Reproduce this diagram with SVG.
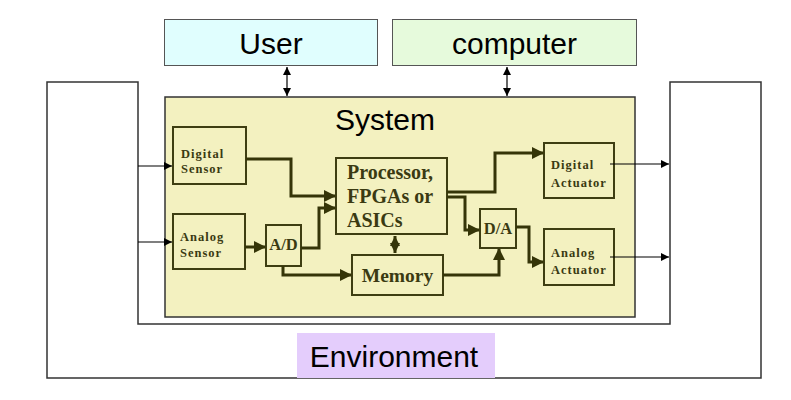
<svg xmlns="http://www.w3.org/2000/svg" width="791" height="400" viewBox="0 0 791 400">
<defs>
<style>
.lbl{font-family:"Liberation Sans",Arial,sans-serif;font-size:30px;fill:#000;text-anchor:middle}
.blk{fill:none;stroke:#3e3e12;stroke-width:2}
.sm{font-family:"Liberation Serif","Times New Roman",serif;font-weight:bold;font-size:12.5px;fill:#3a3a12;letter-spacing:1px}
.big{font-family:"Liberation Serif","Times New Roman",serif;font-weight:bold;fill:#3a3a12}
.thick{fill:none;stroke:#353508;stroke-width:3;stroke-linejoin:miter}
.thin{fill:none;stroke:#000;stroke-width:1.2}
</style>
<marker id="ah" markerUnits="userSpaceOnUse" markerWidth="12" markerHeight="12" viewBox="0 0 12 12" refX="11" refY="6" orient="auto">
<path d="M0,0 L12,6 L0,12 z" fill="#353508"/>
</marker>
<marker id="as" markerUnits="userSpaceOnUse" markerWidth="8" markerHeight="8" viewBox="0 0 8 8" refX="8" refY="4" orient="auto">
<path d="M0,0 L8,4 L0,8 z" fill="#000"/>
</marker>
<marker id="asr" markerUnits="userSpaceOnUse" markerWidth="8" markerHeight="8" viewBox="0 0 8 8" refX="0" refY="4" orient="auto">
<path d="M8,0 L0,4 L8,8 z" fill="#000"/>
</marker>
<marker id="ahm" markerUnits="userSpaceOnUse" markerWidth="10" markerHeight="10" viewBox="0 0 10 10" refX="10" refY="5" orient="auto">
<path d="M0,0 L10,5 L0,10 z" fill="#353508"/>
</marker>
<marker id="ahmr" markerUnits="userSpaceOnUse" markerWidth="10" markerHeight="10" viewBox="0 0 10 10" refX="0" refY="5" orient="auto">
<path d="M10,0 L0,5 L10,10 z" fill="#353508"/>
</marker>
</defs>
<rect width="791" height="400" fill="#fff"/>
<g id="environment">
<path d="M47,82 H138 V324 H670 V82 H761 V378 H47 Z" fill="#fff" stroke="#333" stroke-width="1.5"/>
<rect x="297" y="333" width="198" height="45" fill="#e4cdfc"/>
<text class="lbl" x="394" y="367">Environment</text>
</g>
<g id="user">
<rect x="164.5" y="19.5" width="213" height="46" fill="#e0fefe" stroke="#555" stroke-width="1"/>
<text class="lbl" x="271" y="54">User</text>
</g>
<g id="computer">
<rect x="392.5" y="19.5" width="244" height="46" fill="#e6fadc" stroke="#555" stroke-width="1"/>
<text class="lbl" x="514.5" y="54">computer</text>
</g>
<g id="system">
<rect x="165" y="97" width="470" height="220" fill="#f3f1c0" stroke="#333" stroke-width="1.5"/>
<text class="lbl" x="385" y="130">System</text>
</g>
<g id="digital-sensor">
<rect class="blk" x="173" y="127" width="73" height="57"/>
<text class="sm" x="181" y="158">Digital</text>
<text class="sm" x="181" y="173">Sensor</text>
</g>
<g id="analog-sensor">
<rect class="blk" x="173" y="214" width="72" height="55"/>
<text class="sm" x="180" y="241">Analog</text>
<text class="sm" x="180" y="257">Sensor</text>
</g>
<g id="ad">
<rect class="blk" x="266" y="225" width="35" height="41"/>
<text class="big" x="283.5" y="250" font-size="16.5" text-anchor="middle">A/D</text>
</g>
<g id="processor">
<rect class="blk" x="336" y="158" width="111" height="76"/>
<text class="big" x="347" y="179" font-size="20">Processor,</text>
<text class="big" x="347" y="203" font-size="20">FPGAs or</text>
<text class="big" x="347" y="227" font-size="20">ASICs</text>
</g>
<g id="memory">
<rect class="blk" x="352" y="255" width="91" height="40"/>
<text class="big" x="397.5" y="282" font-size="19.5" text-anchor="middle">Memory</text>
</g>
<g id="da">
<rect class="blk" x="480" y="209" width="36" height="39"/>
<text class="big" x="498" y="234" font-size="16.5" text-anchor="middle">D/A</text>
</g>
<g id="digital-actuator">
<rect class="blk" x="544" y="143" width="70" height="55"/>
<text class="sm" x="551" y="169">Digital</text>
<text class="sm" x="551" y="187">Actuator</text>
</g>
<g id="analog-actuator">
<rect class="blk" x="544" y="229" width="70" height="56"/>
<text class="sm" x="551" y="257">Analog</text>
<text class="sm" x="551" y="274">Actuator</text>
</g>
<g id="connectors">
<line class="thin" x1="287" y1="67" x2="287" y2="96" marker-start="url(#asr)" marker-end="url(#as)"/>
<line class="thin" x1="507" y1="67" x2="507" y2="96" marker-start="url(#asr)" marker-end="url(#as)"/>
<line class="thin" x1="138" y1="166" x2="172" y2="166" marker-end="url(#as)"/>
<line class="thin" x1="138" y1="242" x2="172" y2="242" marker-end="url(#as)"/>
<line class="thin" x1="610" y1="164" x2="669" y2="164" marker-end="url(#as)"/>
<line class="thin" x1="610" y1="257" x2="669" y2="257" marker-end="url(#as)"/>
<path class="thick" d="M246,159 H291 V196 H335" marker-end="url(#ah)"/>
<path class="thick" d="M245,247 H265" marker-end="url(#ah)"/>
<path class="thick" d="M301,248 H319 V208 H335" marker-end="url(#ah)"/>
<path class="thick" d="M283,266 V275 H351" marker-end="url(#ah)"/>
<path class="thick" d="M395,236 V253" marker-start="url(#ahmr)" marker-end="url(#ahm)"/>
<path class="thick" d="M443,275 H499 V249" marker-end="url(#ah)"/>
<path class="thick" d="M447,192 H495 V153 H543" marker-end="url(#ah)"/>
<path class="thick" d="M447,197 H465 V230 H479" marker-end="url(#ah)"/>
<path class="thick" d="M516,227 H529 V262 H543" stroke-width="4" marker-end="url(#ah)"/>
</g>
</svg>
